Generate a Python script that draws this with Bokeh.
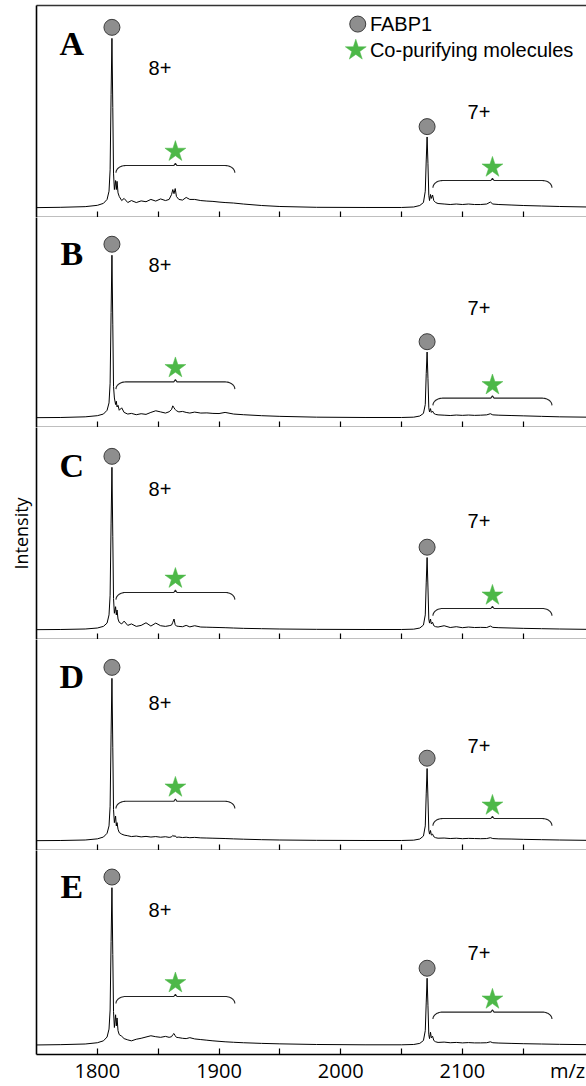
import numpy as np
from bokeh.plotting import figure
from bokeh.layouts import column
from bokeh.models import Range1d, FixedTicker, LinearAxis
from bokeh.core.properties import value
from bokeh.embed import file_html
from bokeh.resources import INLINE

# ---------------- data ----------------
mz = [
    1750, 1770, 1790, 1800, 1805, 1808, 1809.6, 1810.5, 1811.3, 1812,
    1812.7, 1813.3, 1814, 1815, 1815.6, 1816.2, 1817, 1818, 1820, 1822,
    1825, 1828, 1832, 1836, 1840, 1844, 1848, 1852, 1856, 1859,
    1861, 1862, 1863, 1864, 1865, 1867, 1870, 1873, 1876, 1880,
    1885, 1890, 1895, 1900, 1905, 1912, 1920, 1935, 1950, 1980,
    2020, 2050, 2060, 2065, 2068, 2069.5, 2070.3, 2071, 2071.7, 2072.4,
    2073, 2073.8, 2074.5, 2075.5, 2076.5, 2078, 2080, 2085, 2090, 2095,
    2100, 2105, 2110, 2115, 2120, 2123, 2125, 2130, 2140, 2150,
    2165, 2180, 2202]

int_A = [
    1.0, 1.2, 1.6, 2.4, 3.6, 6.0, 11, 24, 70, 104,
    62, 22, 12, 17.5, 12, 17, 10, 7.8, 5.3, 6.6,
    4.1, 5.3, 4.1, 5.1, 4.6, 6.0, 5.0, 6.3, 5.3, 6.0,
    9.0, 12, 9.5, 12.6, 7.8, 6.0, 5.6, 7.2, 6.0, 6.0,
    5.3, 5.0, 4.8, 4.4, 4.1, 3.8, 3.2, 2.3, 1.7, 1.2,
    1.1, 1.1, 1.4, 2.3, 4.1, 11, 30, 44, 28, 8.5,
    5.3, 9.0, 6.6, 8.7, 5.3, 4.1, 3.5, 3.2, 2.9, 3.2,
    2.9, 3.2, 2.9, 2.9, 3.2, 4.4, 3.2, 2.9, 2.6, 2.3,
    2.0, 1.7, 1.4]

int_B = [
    1.0, 1.1, 1.5, 2.2, 3.2, 5.5, 10, 22, 65, 100,
    58, 20, 13, 9, 11, 7.5, 8.5, 5.5, 7.0, 4.2,
    3.2, 3.6, 2.8, 3.4, 3.0, 4.2, 5.2, 4.5, 3.8, 4.6,
    6.0, 8.2, 7.0, 6.0, 5.2, 4.5, 4.8, 4.2, 3.8, 4.4,
    3.8, 3.9, 3.6, 3.5, 4.2, 3.2, 2.8, 2.2, 1.8, 1.3,
    1.1, 1.1, 1.3, 2.0, 3.6, 9, 28, 41, 25, 7,
    4.5, 6.5, 4.2, 5.0, 3.6, 3.0, 2.7, 2.5, 2.3, 2.6,
    2.4, 2.6, 2.4, 2.5, 2.7, 3.4, 2.7, 2.5, 2.3, 2.1,
    1.8, 1.5, 1.3]

int_C = [
    1.0, 1.1, 1.4, 2.0, 3.0, 5.0, 10, 22, 66, 100,
    58, 20, 11, 15, 10, 13, 7.5, 5.5, 4.5, 6.2,
    3.6, 4.5, 3.0, 3.6, 5.2, 3.2, 5.0, 3.4, 3.0, 3.4,
    3.8, 5.5, 7.5, 4.0, 3.2, 3.0, 2.8, 3.6, 2.7, 3.4,
    2.6, 2.5, 2.4, 2.3, 2.2, 2.0, 1.8, 1.6, 1.4, 1.2,
    1.1, 1.1, 1.3, 2.0, 3.8, 10, 30, 45, 27, 7.5,
    5.0, 7.5, 4.5, 5.5, 3.4, 2.8, 2.6, 3.4, 2.3, 2.8,
    2.2, 2.6, 2.3, 2.4, 2.3, 3.2, 2.4, 2.2, 2.0, 1.8,
    1.6, 1.4, 1.2]

int_D = [
    1.0, 1.1, 1.4, 2.1, 3.2, 5.5, 10, 22, 66, 100,
    58, 20, 12, 16, 10, 12, 8, 6, 5.0, 4.4,
    4.0, 3.5, 3.8, 3.3, 3.6, 3.2, 3.5, 3.1, 3.4, 3.0,
    3.3, 4.2, 3.6, 4.0, 3.0, 3.2, 2.9, 3.1, 2.8, 3.0,
    2.7, 2.6, 2.5, 2.4, 2.3, 2.1, 1.9, 1.6, 1.4, 1.2,
    1.1, 1.1, 1.3, 2.0, 3.8, 10, 30, 45, 27, 7.5,
    5.0, 7.2, 4.4, 5.0, 3.4, 2.8, 2.5, 2.6, 2.3, 2.5,
    2.2, 2.4, 2.3, 2.2, 2.3, 2.8, 2.3, 2.1, 2.0, 1.8,
    1.6, 1.4, 1.2]

int_E = [
    1.0, 1.2, 1.6, 2.4, 3.6, 6.0, 11, 23, 66, 100,
    58, 22, 12, 20, 13, 18, 10, 7.5, 6.5, 5.0,
    4.2, 3.6, 4.6, 5.2, 6.0, 6.8, 6.2, 5.8, 6.4, 5.8,
    6.2, 7.5, 8.2, 6.8, 5.8, 5.6, 5.2, 5.0, 5.6, 4.8,
    4.4, 4.0, 3.6, 3.3, 3.0, 2.7, 2.4, 2.0, 1.7, 1.3,
    1.1, 1.1, 1.3, 2.0, 3.8, 10, 28, 43, 26, 7.5,
    5.0, 9.0, 5.5, 6.5, 3.8, 3.0, 2.6, 2.8, 2.4, 2.6,
    2.3, 2.5, 2.3, 2.3, 2.4, 3.0, 2.4, 2.2, 2.0, 1.8,
    1.6, 1.4, 1.2]

spectra = [int_A, int_B, int_C, int_D, int_E]
panel_letters = ["A", "B", "C", "D", "E"]
charge_labels = ["8+", "7+"]
legend_labels = ["FABP1", "Co-purifying molecules"]

bracket_8 = [1815.3, 1913.0]      # m/z span of co-purifying region, 8+
bracket_7 = [2075.8, 2173.6]      # m/z span of co-purifying region, 7+
bracket_8_level = [26.6, 22.8, 23.7, 25.0, 31.5]
bracket_7_level = [17.5, 12.9, 13.9, 14.5, 21.7]
label_8_level = [85.7, 93.8, 86.5, 85.2, 85.9]
label_7_level = [59.5, 67.6, 67.0, 59.0, 59.0]

x_major = [1800, 1900, 2000, 2100]
x_minor = [1850, 1950, 2050, 2150]
x_title = "m/z"
x_title_pos = 2186.5

# ---------------- layout / style ----------------
heights = [217, 210, 212, 211, 236]
y_tops = [124.0, 123.0, 124.3, 123.7, 123.4]
X0, X1 = 1750, 2202
GREY = "#8e8e8e"
GREEN = "#4db848"
SANS = value("Liberation Sans")


def brace(x0, x1, y, rx=8.0, ry=4.4, tip=1.4, tw=1.3):
    t = np.linspace(0, np.pi / 2, 14)
    xl = x0 + rx * (1 - np.cos(t))
    yl = y - ry * (1 - np.sin(t))
    tr = t[::-1]
    xr = x1 - rx * (1 - np.cos(tr))
    yr = y - ry * (1 - np.sin(tr))
    xc = (x0 + x1) / 2
    xs = np.concatenate([xl, [xc - tw, xc, xc + tw], xr])
    ys = np.concatenate([yl, [y, y + tip, y], yr])
    return xs, ys


figs = []
x_range = Range1d(X0, X1)
for i, ints in enumerate(spectra):
    last = i == len(spectra) - 1
    p = figure(width=586, height=heights[i], x_range=x_range,
               y_range=Range1d(-5, y_tops[i]), output_backend="svg",
               toolbar_location=None, min_border_left=36, min_border_right=0,
               min_border_top=5 if i == 0 else 0,
               min_border_bottom=25 if last else 0,
               background_fill_color="white", border_fill_color="white")
    p.outline_line_color = None
    p.grid.visible = False

    xa = p.xaxis[0]
    xa.axis_label = None
    xa.major_tick_in = 0
    xa.major_tick_out = 0
    xa.minor_tick_in = 6
    xa.minor_tick_out = 0
    xa.axis_line_width = 1.6
    xa.minor_tick_line_width = 1.2
    xa.axis_line_color = "black"
    if last:
        # labelled positions (incl. the axis title "m/z" at the right end);
        # the visible tick marks are all drawn as equal-length minor ticks
        xa.ticker = FixedTicker(ticks=x_major + [x_title_pos],
                                minor_ticks=x_major + x_minor)
        xa.major_label_overrides = {x_title_pos: x_title}
        xa.major_label_text_font = "Open Sans"
        xa.major_label_text_font_size = "20px"
        xa.major_label_text_color = "black"
        xa.major_label_standoff = 2
    else:
        xa.ticker = FixedTicker(ticks=[], minor_ticks=x_major + x_minor)
        xa.major_label_standoff = 0

    ya = p.yaxis[0]
    ya.axis_label = None
    ya.ticker = FixedTicker(ticks=[])
    ya.major_tick_in = 0
    ya.major_tick_out = 0
    ya.minor_tick_in = 0
    ya.minor_tick_out = 0
    ya.major_label_standoff = 0
    ya.axis_line_width = 1.6
    ya.axis_line_color = "black"
    if i == 2:
        ya.axis_label = "Intensity"
        ya.axis_label_text_font = "Open Sans"
        ya.axis_label_text_font_size = "18px"
        ya.axis_label_text_font_style = "normal"
        ya.axis_label_text_color = "black"
        ya.axis_label_standoff = 4

    if i == 0:
        top = LinearAxis(ticker=FixedTicker(ticks=[]), major_tick_in=0, major_tick_out=0,
                         minor_tick_in=0, minor_tick_out=0, major_label_standoff=0,
                         axis_line_width=1.6, axis_line_color="#333333")
        p.add_layout(top, "above")

    # spectrum
    p.line(mz, ints, line_color="black", line_width=1.0)

    # FABP1 peak markers
    mz_arr = np.array(mz)
    in_arr = np.array(ints)
    i8 = in_arr[mz_arr < 1950].max()
    i7 = in_arr[mz_arr > 2000].max()
    m8 = mz_arr[mz_arr < 1950][in_arr[mz_arr < 1950].argmax()]
    m7 = mz_arr[mz_arr > 2000][in_arr[mz_arr > 2000].argmax()]
    p.scatter([m8, m7], [i8 + 6.7, i7 + 6.3], marker="circle", size=16,
              fill_color=GREY, line_color="#3c3c3c", line_width=1)

    # braces + stars
    for (b0, b1), lvl in ((bracket_8, bracket_8_level[i]), (bracket_7, bracket_7_level[i])):
        bx, by = brace(b0, b1, lvl)
        p.line(bx, by, line_color="#222222", line_width=1.1)
    p.scatter([(bracket_8[0] + bracket_8[1]) / 2, (bracket_7[0] + bracket_7[1]) / 2],
              [bracket_8_level[i] + 8.5, bracket_7_level[i] + 8.0],
              marker="star", size=22, fill_color=GREEN, line_color=GREEN, line_width=0.5)

    # charge state labels
    p.text(x=[1851.5, 2113.6], y=[label_8_level[i], label_7_level[i]], text=charge_labels,
           text_font=SANS, text_font_size="20px", text_align="center",
           text_baseline="middle", text_color="black")

    # panel letter
    p.text(x=[1779], y=[101], text=[panel_letters[i]], text_font=value("Liberation Serif"),
           text_font_style="bold", text_font_size="34px", text_align="center",
           text_baseline="middle", text_color="black")

    if i == 0:
        p.scatter([2014], [112.7], marker="circle", size=16, fill_color=GREY,
                  line_color="#3c3c3c", line_width=1)
        p.scatter([2012.4], [96.8], marker="star", size=22, fill_color=GREEN,
                  line_color=GREEN, line_width=0.5)
        p.text(x=[2024, 2024], y=[112.7, 96.8], text=legend_labels, text_font=SANS,
               text_font_size="20px", text_align="left", text_baseline="middle",
               text_color="black")

    figs.append(p)

layout = column(*figs, spacing=0)
open("out.html", "w").write(file_html(layout, INLINE))
